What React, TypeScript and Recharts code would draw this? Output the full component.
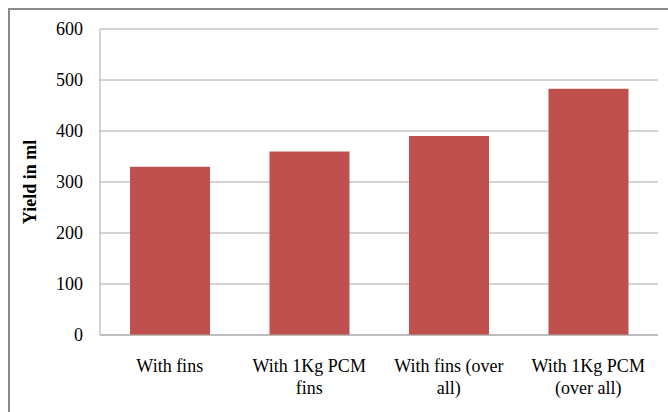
import React from "react";
import { BarChart, Bar, XAxis, YAxis, CartesianGrid, Label } from "recharts";

// Category labels, one entry per line of the tick text
const categoryLines: string[][] = [
  ["With fins"],
  ["With 1Kg PCM", "fins"],
  ["With fins (over", "all)"],
  ["With 1Kg PCM", "(over all)"],
];
const categories: string[] = categoryLines.map((lines) => lines.join(" "));
const yieldMl: number[] = [330, 360, 390, 483];
const yTicks: number[] = [0, 100, 200, 300, 400, 500, 600];

const data = categories.map((name, i) => ({ name, value: yieldMl[i] }));

const FONT = "'Liberation Serif', 'Times New Roman', serif";
const GRID = "#a8a8a8";
const BAR = "#C0504D";

const CategoryTick = (props: any) => {
  const { x, y, payload } = props;
  const lines = categoryLines[payload.index] ?? [String(payload.value)];
  return (
    <text
      x={x}
      y={y + 35}
      textAnchor="middle"
      fontFamily={FONT}
      fontSize={18}
      fill="#000"
    >
      {lines.map((line, i) => (
        <tspan key={i} x={x} dy={i === 0 ? 0 : 22}>
          {line}
        </tspan>
      ))}
    </text>
  );
};

export default function App() {
  return (
    <div
      style={{
        position: "fixed",
        left: 0,
        top: 0,
        width: 668,
        height: 412,
        overflow: "hidden",
        background: "#fff",
      }}
    >
      <div
        style={{
          position: "absolute",
          left: 8,
          top: 8,
          width: 700,
          height: 440,
          border: "2px solid #8a8a8a",
          boxSizing: "border-box",
        }}
      />
      <div style={{ position: "absolute", left: 0, top: 0 }}>
        <BarChart
          width={668}
          height={412}
          data={data}
          margin={{ top: 29, right: 10, left: 0, bottom: 0 }}
        >
          <CartesianGrid vertical={false} stroke={GRID} strokeWidth={1} />
          <XAxis
            dataKey="name"
            height={77}
            tickLine={false}
            tickSize={0}
            axisLine={{ stroke: GRID }}
            tick={<CategoryTick />}
            interval={0}
          />
          <YAxis
            width={100}
            domain={[0, 600]}
            ticks={yTicks}
            tickLine={false}
            tickSize={0}
            tickMargin={17}
            axisLine={{ stroke: GRID }}
            tick={{ fontFamily: FONT, fontSize: 18, fill: "#000" }}
          >
            <Label
              value="Yield in ml"
              angle={-90}
              position="insideLeft"
              offset={0}
              content={(p: any) => {
                const vb = p.viewBox || {};
                const cy = (vb.y ?? 29) + (vb.height ?? 306) / 2;
                return (
                  <text
                    x={30}
                    y={cy}
                    transform={`rotate(-90, 30, ${cy})`}
                    textAnchor="middle"
                    dominantBaseline="central"
                    fontFamily={FONT}
                    fontSize={18}
                    fontWeight="bold"
                    fill="#000"
                  >
                    Yield in ml
                  </text>
                );
              }}
            />
          </YAxis>
          <Bar dataKey="value" fill={BAR} barSize={80} isAnimationActive={false} />
        </BarChart>
      </div>
    </div>
  );
}
